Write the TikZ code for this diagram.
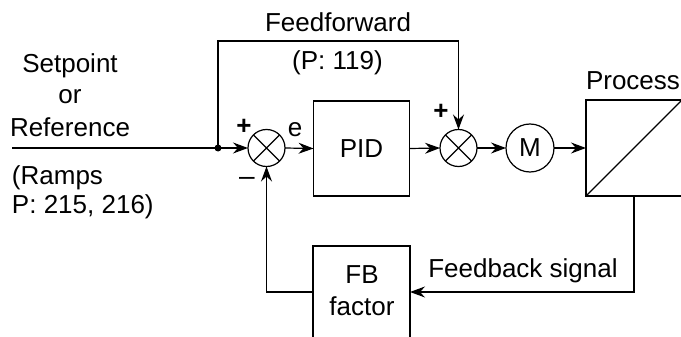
\documentclass[tikz,border=0pt]{standalone}
\usepackage{fontspec}
\setmainfont{Liberation Sans}
\usetikzlibrary{arrows.meta}
\begin{document}
\begin{tikzpicture}[x=1pt,y=-1pt,line width=1.2pt,
  every node/.style={font=\fontsize{26}{30}\selectfont,inner sep=0pt,outer sep=0pt},
  arr/.style={-{Stealth[length=15pt,width=11pt,inset=5pt]}},
  blk/.style={draw,rectangle},
  sumc/.style={draw,circle,minimum size=37pt},
  lbl/.style={anchor=base},
  sgn/.style={font=\fontsize{26}{30}\selectfont\bfseries}
]
\useasboundingbox (0,0) rectangle (681,337);

% blocks
\node[sumc] (s1) at (266.5,148) {};
\draw (s1.north west) -- (s1.south east) (s1.north east) -- (s1.south west);
\node[blk,minimum width=96pt,minimum height=95pt] (pid) at (361.5,148.5) {PID};
\node[sumc] (s2) at (458.5,148) {};
\draw (s2.north west) -- (s2.south east) (s2.north east) -- (s2.south west);
\node[draw,circle,minimum size=48pt] (m) at (530,148) {M};
\node[blk,minimum width=96pt,minimum height=96pt] (proc) at (634,148) {};
\draw (proc.south west) -- (proc.north east);
\node[blk,minimum width=97pt,minimum height=92pt,align=center] (fb) at (361.5,292) {};

% coordinates
\coordinate (in) at (12,148);
\coordinate (br) at (218,148);
\coordinate (ffl) at (218,41);
\coordinate (ffr) at (458.5,41);
\coordinate (pb) at (634,292);
\coordinate (fbl) at (266.5,292);

% connectors
\draw[arr] (in) -- (s1.west);
\fill (br) circle (3.5pt);
\draw[arr] (br) -- (ffl) -- (ffr) -- (s2.north);
\draw[arr] (s1.east) -- (pid.west);
\draw[arr] (pid.east) -- (s2.west);
\draw[arr] (s2.east) -- (m.west);
\draw[arr] (m.east) -- (proc.west);
\draw[arr] (proc.south) -- (pb) -- (fb.east);
\draw[arr] (fb.west) -- (fbl) -- (s1.south);

% texts
\node[lbl] (t1) at (70,73) {Setpoint};
\node[lbl] (t2) at (70,103) {or};
\node[lbl] (t3) at (70,137) {Reference};
\node[anchor=base west] (t4) at (12,184) {(Ramps};
\node[anchor=base west] (t5) at (12,213) {P: 215, 216)};
\node[lbl] (t6) at (338,32) {Feedforward};
\node[lbl] (t7) at (337.5,70) {(P: 119)};
\node[anchor=base west] (t8) at (586,90) {Process};
\node[lbl] (t9) at (523,277) {Feedback signal};
\node[lbl] (t10) at (362,283) {FB};
\node[lbl] (t11) at (362,315) {factor};
\node[sgn] (p1) at (244,127) {+};
\node[lbl] (e1) at (295,137) {e};
\node[font=\fontsize{28}{30}\selectfont] (m1) at (247,181) {–};
\node[sgn] (p2) at (441,112) {+};
\end{tikzpicture}
\end{document}
